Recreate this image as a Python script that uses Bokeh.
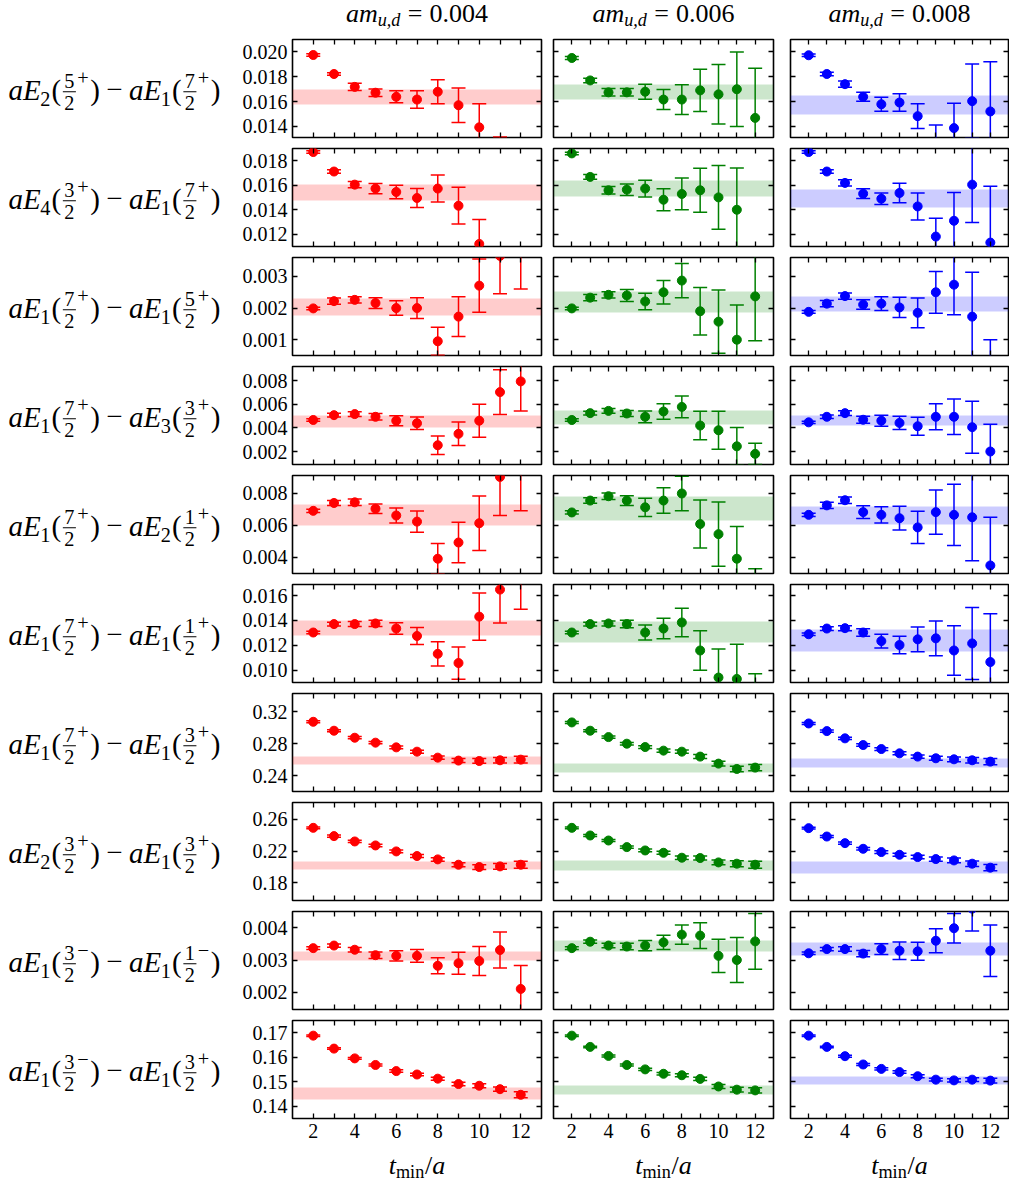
from bokeh.plotting import figure
from bokeh.layouts import column, row
from bokeh.models import Range1d, FixedTicker, LinearAxis, ColumnDataSource, CustomJSTickFormatter
from bokeh.embed import file_html
from bokeh.resources import INLINE
from bokeh.core.properties import value, field

FONT = "Liberation Serif"

# ---------------- data ----------------
t_min = [2, 3, 4, 5, 6, 7, 8, 9, 10, 11, 12]
x_ticks = [2, 4, 6, 8, 10, 12]
x_tick_labels = ["2", "4", "6", "8", "10", "12"]
x_minor_ticks = [3, 5, 7, 9, 11]
x_limits = (1, 13)
masses = ["0.004", "0.006", "0.008"]
colors = ["#ff0000", "#008000", "#0000ff"]

# row 1: aE2(5/2+) - aE1(7/2+)
r01_label = [("2", "5", "+"), ("1", "7", "+")]
r01_ylim = (0.0131, 0.0210)
r01_yticks = [0.014, 0.016, 0.018, 0.020]
r01_yticklabels = ["0.014", "0.016", "0.018", "0.020"]
r01_val_m004 = [0.01975, 0.01822, 0.01718, 0.01671, 0.01638, 0.01616, 0.01679, 0.0157, 0.01392, 0.0118, 0.0100]
r01_err_m004 = [0.0001, 0.0001, 0.0003, 0.0003, 0.00048, 0.0007, 0.00096, 0.0014, 0.0019, 0.00135, 0.002]
r01_val_m006 = [0.01951, 0.0177, 0.01674, 0.01674, 0.01679, 0.01616, 0.01616, 0.0169, 0.01658, 0.01699, 0.01468]
r01_err_m006 = [0.00012, 0.00018, 0.0003, 0.0003, 0.0006, 0.0008, 0.0012, 0.0017, 0.0024, 0.003, 0.004]
r01_val_m008 = [0.01973, 0.01822, 0.0174, 0.01638, 0.01578, 0.01592, 0.01482, 0.0124, 0.01386, 0.01603, 0.0152]
r01_err_m008 = [0.0001, 0.00015, 0.00025, 0.00036, 0.00056, 0.0007, 0.001, 0.0017, 0.002, 0.003, 0.004]
r01_band_mid = [0.0164, 0.0168, 0.01572]
r01_band_half = [0.0006, 0.0006, 0.0008]

# row 2: aE4(3/2+) - aE1(7/2+)
r02_label = [("4", "3", "+"), ("1", "7", "+")]
r02_ylim = (0.0110, 0.0190)
r02_yticks = [0.012, 0.014, 0.016, 0.018]
r02_yticklabels = ["0.012", "0.014", "0.016", "0.018"]
r02_val_m004 = [0.01871, 0.01712, 0.01605, 0.01573, 0.01545, 0.01496, 0.01573, 0.01433, 0.01121, 0.0095, 0.0090]
r02_err_m004 = [0.0001, 0.00015, 0.00025, 0.00042, 0.00055, 0.00077, 0.0011, 0.0015, 0.002, 0.0013, 0.0015]
r02_val_m006 = [0.0186, 0.01668, 0.01559, 0.01564, 0.01573, 0.01482, 0.01529, 0.01559, 0.01501, 0.0140, 0.0095]
r02_err_m006 = [0.0001, 0.0002, 0.0003, 0.00047, 0.00068, 0.0009, 0.0013, 0.0018, 0.0026, 0.0034, 0.001]
r02_val_m008 = [0.01871, 0.01712, 0.01619, 0.01531, 0.0149, 0.01537, 0.01427, 0.01181, 0.0131, 0.01605, 0.01132]
r02_err_m008 = [0.0001, 0.00015, 0.00025, 0.0004, 0.00047, 0.0008, 0.0011, 0.0015, 0.0023, 0.0031, 0.0046]
r02_band_mid = [0.0154, 0.01574, 0.01491]
r02_band_half = [0.00065, 0.00064, 0.00073]

# row 3: aE1(7/2+) - aE1(5/2+)
r03_label = [("1", "7", "+"), ("1", "5", "+")]
r03_ylim = (0.0005, 0.0036)
r03_yticks = [0.001, 0.002, 0.003]
r03_yticklabels = ["0.001", "0.002", "0.003"]
r03_val_m004 = [0.00199, 0.00222, 0.00226, 0.00216, 0.0020, 0.0020, 0.00095, 0.00173, 0.00271, 0.00365, 0.0039]
r03_err_m004 = [0.00004, 0.0001, 0.0001, 0.00017, 0.00023, 0.00033, 0.00044, 0.00063, 0.00084, 0.0012, 0.0013]
r03_val_m006 = [0.00199, 0.00233, 0.00242, 0.0024, 0.00221, 0.0025, 0.00287, 0.0019, 0.00157, 0.0010, 0.00237]
r03_err_m006 = [0.00004, 0.0001, 0.0001, 0.00019, 0.00026, 0.00037, 0.00054, 0.00075, 0.001, 0.0011, 0.0014]
r03_val_m008 = [0.00188, 0.00214, 0.00238, 0.00211, 0.00214, 0.00202, 0.00185, 0.0025, 0.00274, 0.00173, 0.0001]
r03_err_m008 = [0.00004, 0.0001, 0.0001, 0.00015, 0.00022, 0.00032, 0.00047, 0.00066, 0.00095, 0.0014, 0.0009]
r03_band_mid = [0.00203, 0.0022, 0.00213]
r03_band_half = [0.00027, 0.00033, 0.00025]

# row 4: aE1(7/2+) - aE3(3/2+)
r04_label = [("1", "7", "+"), ("3", "3", "+")]
r04_ylim = (0.0009, 0.0092)
r04_yticks = [0.002, 0.004, 0.006, 0.008]
r04_yticklabels = ["0.002", "0.004", "0.006", "0.008"]
r04_val_m004 = [0.00467, 0.00508, 0.00517, 0.00494, 0.00461, 0.00439, 0.00253, 0.0035, 0.00461, 0.00703, 0.00794]
r04_err_m004 = [0.0001, 0.00015, 0.0002, 0.00028, 0.00042, 0.00053, 0.00078, 0.001, 0.0014, 0.0019, 0.0025]
r04_val_m006 = [0.00467, 0.00525, 0.00544, 0.00522, 0.00494, 0.00539, 0.00578, 0.0042, 0.0038, 0.00244, 0.0018]
r04_err_m006 = [0.0001, 0.00015, 0.0002, 0.00025, 0.0005, 0.00065, 0.00092, 0.0012, 0.0016, 0.0016, 0.0009]
r04_val_m008 = [0.00447, 0.00494, 0.00525, 0.00469, 0.00461, 0.00442, 0.00414, 0.00494, 0.00494, 0.00406, 0.0020]
r04_err_m008 = [0.0001, 0.00015, 0.0002, 0.0003, 0.00047, 0.00056, 0.00077, 0.0011, 0.0015, 0.0022, 0.0023]
r04_band_mid = [0.00455, 0.00486, 0.00461]
r04_band_half = [0.00049, 0.00058, 0.00042]

# row 5: aE1(7/2+) - aE2(1/2+)
r05_label = [("1", "7", "+"), ("2", "1", "+")]
r05_ylim = (0.0030, 0.0091)
r05_yticks = [0.004, 0.006, 0.008]
r05_yticklabels = ["0.004", "0.006", "0.008"]
r05_val_m004 = [0.0069, 0.00739, 0.00743, 0.00703, 0.00661, 0.00623, 0.00392, 0.00493, 0.00613, 0.00901, 0.0098]
r05_err_m004 = [0.0001, 0.00015, 0.0002, 0.0003, 0.00047, 0.00066, 0.00095, 0.00126, 0.0017, 0.0024, 0.0029]
r05_val_m006 = [0.0068, 0.00754, 0.00781, 0.00754, 0.00712, 0.00754, 0.00798, 0.00608, 0.00545, 0.00392, 0.0012]
r05_err_m006 = [0.0001, 0.00017, 0.0002, 0.0003, 0.00057, 0.00079, 0.00107, 0.0015, 0.002, 0.002, 0.0021]
r05_val_m008 = [0.00665, 0.00724, 0.00756, 0.00682, 0.00665, 0.00644, 0.00587, 0.00682, 0.00665, 0.0065, 0.0035]
r05_err_m008 = [0.0001, 0.0002, 0.0002, 0.0004, 0.0005, 0.00074, 0.001, 0.00137, 0.0019, 0.0027, 0.003]
r05_band_mid = [0.00662, 0.00703, 0.00663]
r05_band_half = [0.00066, 0.00074, 0.00055]

# row 6: aE1(7/2+) - aE1(1/2+)
r06_label = [("1", "7", "+"), ("1", "1", "+")]
r06_ylim = (0.0090, 0.0169)
r06_yticks = [0.010, 0.012, 0.014, 0.016]
r06_yticklabels = ["0.010", "0.012", "0.014", "0.016"]
r06_val_m004 = [0.01303, 0.01371, 0.01371, 0.01376, 0.01335, 0.01275, 0.01131, 0.01057, 0.01431, 0.01649, 0.0182]
r06_err_m004 = [0.0001, 0.00015, 0.0002, 0.00025, 0.00047, 0.00068, 0.00098, 0.0013, 0.0019, 0.0027, 0.0033]
r06_val_m006 = [0.01303, 0.01371, 0.01376, 0.01371, 0.01303, 0.01335, 0.01384, 0.01158, 0.0094, 0.00929, 0.0068]
r06_err_m006 = [0.0001, 0.00015, 0.0002, 0.0003, 0.0006, 0.00082, 0.00115, 0.0016, 0.0023, 0.0028, 0.0029]
r06_val_m008 = [0.01289, 0.01335, 0.01338, 0.01303, 0.01234, 0.01202, 0.01248, 0.01256, 0.01158, 0.01215, 0.01065]
r06_err_m008 = [0.0001, 0.00015, 0.0002, 0.0003, 0.00055, 0.0007, 0.001, 0.0014, 0.002, 0.0029, 0.0039]
r06_band_mid = [0.0134, 0.01305, 0.01236]
r06_band_half = [0.0006, 0.00085, 0.00089]

# row 7: aE1(7/2+) - aE1(3/2+)
r07_label = [("1", "7", "+"), ("1", "3", "+")]
r07_ylim = (0.220, 0.343)
r07_yticks = [0.24, 0.28, 0.32]
r07_yticklabels = ["0.24", "0.28", "0.32"]
r07_val_m004 = [0.3075, 0.2963, 0.2875, 0.2813, 0.2754, 0.2700, 0.2625, 0.2588, 0.2583, 0.2592, 0.2600]
r07_err_m004 = [0.0012, 0.0013, 0.0014, 0.0015, 0.0017, 0.0019, 0.0021, 0.0025, 0.003, 0.0035, 0.0042]
r07_val_m006 = [0.3067, 0.2963, 0.2883, 0.2800, 0.2758, 0.2713, 0.2700, 0.2638, 0.2550, 0.2483, 0.2500]
r07_err_m006 = [0.0012, 0.0013, 0.0014, 0.0015, 0.0017, 0.0019, 0.0021, 0.0025, 0.003, 0.0035, 0.004]
r07_val_m008 = [0.3054, 0.2958, 0.2867, 0.2783, 0.2733, 0.2679, 0.2638, 0.2617, 0.2604, 0.2592, 0.2575]
r07_err_m008 = [0.0012, 0.0013, 0.0014, 0.0015, 0.0017, 0.0019, 0.0021, 0.0025, 0.003, 0.0035, 0.004]
r07_band_mid = [0.2585, 0.2496, 0.2558]
r07_band_half = [0.0052, 0.0058, 0.0058]

# row 8: aE2(3/2+) - aE1(3/2+)
r08_label = [("2", "3", "+"), ("1", "3", "+")]
r08_ylim = (0.158, 0.281)
r08_yticks = [0.18, 0.22, 0.26]
r08_yticklabels = ["0.18", "0.22", "0.26"]
r08_val_m004 = [0.2492, 0.2388, 0.2321, 0.2271, 0.2196, 0.2138, 0.2096, 0.2029, 0.2000, 0.2008, 0.2029]
r08_err_m004 = [0.0012, 0.0013, 0.0014, 0.0015, 0.0017, 0.0019, 0.0022, 0.0026, 0.003, 0.0035, 0.0045]
r08_val_m006 = [0.2492, 0.2396, 0.2333, 0.2250, 0.2208, 0.2179, 0.2117, 0.2113, 0.2058, 0.2042, 0.2029]
r08_err_m006 = [0.0012, 0.0013, 0.0014, 0.0015, 0.0017, 0.0019, 0.0022, 0.0026, 0.003, 0.0038, 0.0045]
r08_val_m008 = [0.2488, 0.2383, 0.2300, 0.2229, 0.2188, 0.2154, 0.2125, 0.2100, 0.2083, 0.2042, 0.1992]
r08_err_m008 = [0.0012, 0.0013, 0.0014, 0.0015, 0.0017, 0.0019, 0.0022, 0.0026, 0.003, 0.0035, 0.004]
r08_band_mid = [0.2021, 0.2021, 0.1996]
r08_band_half = [0.0054, 0.0063, 0.0079]

# row 9: aE1(3/2-) - aE1(1/2-)
r09_label = [("1", "3", "\u2212"), ("1", "1", "\u2212")]
r09_ylim = (0.00146, 0.00451)
r09_yticks = [0.002, 0.003, 0.004]
r09_yticklabels = ["0.002", "0.003", "0.004"]
r09_val_m004 = [0.00337, 0.00345, 0.00332, 0.00315, 0.00313, 0.00313, 0.00282, 0.0029, 0.00297, 0.00331, 0.0021]
r09_err_m004 = [0.00004, 0.00005, 0.00007, 0.0001, 0.00016, 0.0002, 0.00025, 0.00034, 0.00045, 0.00056, 0.00073]
r09_val_m006 = [0.00337, 0.00357, 0.00345, 0.00342, 0.00345, 0.00355, 0.00379, 0.00376, 0.00313, 0.0030, 0.00358]
r09_err_m006 = [0.00004, 0.00005, 0.00007, 0.0001, 0.00016, 0.00022, 0.0003, 0.0004, 0.00052, 0.0007, 0.00087]
r09_val_m008 = [0.00321, 0.00334, 0.00334, 0.0032, 0.00334, 0.00329, 0.00327, 0.0036, 0.00399, 0.0046, 0.00329]
r09_err_m008 = [0.00004, 0.00005, 0.00007, 0.0001, 0.00017, 0.00027, 0.00028, 0.00037, 0.00046, 0.0007, 0.0008]
r09_band_mid = [0.00313, 0.00343, 0.00335]
r09_band_half = [0.00013, 0.00017, 0.0002]

# row 10: aE1(3/2-) - aE1(3/2+)
r10_label = [("1", "3", "\u2212"), ("1", "3", "+")]
r10_ylim = (0.135, 0.1751)
r10_yticks = [0.14, 0.15, 0.16, 0.17]
r10_yticklabels = ["0.14", "0.15", "0.16", "0.17"]
r10_val_m004 = [0.1689, 0.1636, 0.1596, 0.1569, 0.1544, 0.1530, 0.1513, 0.1491, 0.1484, 0.1470, 0.1447]
r10_err_m004 = [0.0003, 0.0003, 0.0004, 0.0004, 0.0005, 0.0005, 0.0006, 0.0007, 0.0008, 0.0009, 0.0012]
r10_val_m006 = [0.1689, 0.1643, 0.1606, 0.1569, 0.1551, 0.1533, 0.1527, 0.1512, 0.1481, 0.1468, 0.1465]
r10_err_m006 = [0.0003, 0.0003, 0.0004, 0.0004, 0.0005, 0.0005, 0.0006, 0.0007, 0.0008, 0.001, 0.0011]
r10_val_m008 = [0.1689, 0.1643, 0.1605, 0.1571, 0.1553, 0.1540, 0.1523, 0.1509, 0.1506, 0.1509, 0.1505]
r10_err_m008 = [0.0003, 0.0003, 0.0004, 0.0004, 0.0005, 0.0005, 0.0006, 0.0006, 0.0007, 0.0008, 0.001]
r10_band_mid = [0.1452, 0.1466, 0.1505]
r10_band_half = [0.0026, 0.0019, 0.0017]

ROWS = []
for lab, ylim, yt, ytl, vals, errs, bm, bh in [
    (r01_label, r01_ylim, r01_yticks, r01_yticklabels, [r01_val_m004, r01_val_m006, r01_val_m008], [r01_err_m004, r01_err_m006, r01_err_m008], r01_band_mid, r01_band_half),
    (r02_label, r02_ylim, r02_yticks, r02_yticklabels, [r02_val_m004, r02_val_m006, r02_val_m008], [r02_err_m004, r02_err_m006, r02_err_m008], r02_band_mid, r02_band_half),
    (r03_label, r03_ylim, r03_yticks, r03_yticklabels, [r03_val_m004, r03_val_m006, r03_val_m008], [r03_err_m004, r03_err_m006, r03_err_m008], r03_band_mid, r03_band_half),
    (r04_label, r04_ylim, r04_yticks, r04_yticklabels, [r04_val_m004, r04_val_m006, r04_val_m008], [r04_err_m004, r04_err_m006, r04_err_m008], r04_band_mid, r04_band_half),
    (r05_label, r05_ylim, r05_yticks, r05_yticklabels, [r05_val_m004, r05_val_m006, r05_val_m008], [r05_err_m004, r05_err_m006, r05_err_m008], r05_band_mid, r05_band_half),
    (r06_label, r06_ylim, r06_yticks, r06_yticklabels, [r06_val_m004, r06_val_m006, r06_val_m008], [r06_err_m004, r06_err_m006, r06_err_m008], r06_band_mid, r06_band_half),
    (r07_label, r07_ylim, r07_yticks, r07_yticklabels, [r07_val_m004, r07_val_m006, r07_val_m008], [r07_err_m004, r07_err_m006, r07_err_m008], r07_band_mid, r07_band_half),
    (r08_label, r08_ylim, r08_yticks, r08_yticklabels, [r08_val_m004, r08_val_m006, r08_val_m008], [r08_err_m004, r08_err_m006, r08_err_m008], r08_band_mid, r08_band_half),
    (r09_label, r09_ylim, r09_yticks, r09_yticklabels, [r09_val_m004, r09_val_m006, r09_val_m008], [r09_err_m004, r09_err_m006, r09_err_m008], r09_band_mid, r09_band_half),
    (r10_label, r10_ylim, r10_yticks, r10_yticklabels, [r10_val_m004, r10_val_m006, r10_val_m008], [r10_err_m004, r10_err_m006, r10_err_m008], r10_band_mid, r10_band_half),
]:
    ROWS.append(dict(label=lab, ylim=ylim, yticks=yt, yticklabels=ytl, vals=vals, errs=errs, bmid=bm, bhalf=bh))

# ---------------- layout constants (px) ----------------
PAGE0 = 0
LABEL_W = 236
FRAME_W = [249, 220, 218]
FRAME_H = 98
COL_LEFT = [56, 6, 8]
COL_RIGHT = [6, 9, 1]
ROW_TOP = 4
ROW_BOTTOM = 7
LAST_BOTTOM = 32
HEADER_H = 35
TICK_SIZE = 20
LABEL_SIZE = 29
TEXT_SIZE = 26
LINE_W = 1.5
BASE_SHIFT = 0.33   # empirical: text glyphs draw this many em below the given baseline

# ---------------- simple typesetting ----------------
W_UP = {c: 0.5 for c in "0123456789"}
W_UP.update({".": 0.25, ",": 0.25, "(": 0.333, ")": 0.333, "+": 0.564, "\u2212": 0.564,
             "=": 0.564, "/": 0.278, "m": 0.778, "i": 0.278, "n": 0.5})
W_IT = {"a": 0.5, "E": 0.611, "m": 0.722, "u": 0.5, "d": 0.5, "t": 0.278, ",": 0.25}


def tw(s, size, italic):
    tab = W_IT if italic else W_UP
    return sum(tab.get(ch, 0.5) for ch in s) * size


class Typeset:
    def __init__(self):
        self.items = []
        self.bars = []
        self.x = 0.0

    def skip(self, d):
        self.x += d

    def put(self, txt, size, italic, dy=0.0):
        self.items.append((self.x, dy, txt, size, italic))
        self.x += tw(txt, size, italic)

    def frac(self, num, den, s, S):
        bw = max(tw(num, s, False), tw(den, s, False)) + 0.14 * S
        self.items.append((self.x + (bw - tw(num, s, False)) / 2, -0.40 * S, num, s, False))
        self.items.append((self.x + (bw - tw(den, s, False)) / 2, 0.36 * S, den, s, False))
        self.bars.append((self.x + 0.02 * S, self.x + bw - 0.02 * S, -0.25 * S))
        self.x += bw


def label_typeset(terms, S):
    T = Typeset()
    s = 0.7 * S
    for k, (idx, num, sign) in enumerate(terms):
        if k:
            T.skip(0.22 * S)
            T.put("\u2212", S, False)
            T.skip(0.22 * S)
        T.put("aE", S, True)
        T.skip(-0.02 * S)
        T.put(idx, s, False, dy=0.22 * S)
        T.skip(0.04 * S)
        T.put("(", S, False)
        T.skip(0.04 * S)
        T.frac(num, "2", s, S)
        T.skip(0.03 * S)
        T.put(sign, s, False, dy=-0.50 * S)
        T.skip(0.05 * S)
        T.put(")", S, False)
    return T


def header_typeset(mass, S):
    T = Typeset()
    s = 0.7 * S
    T.put("am", S, True)
    T.put("u,d", s, True, dy=0.15 * S)
    T.skip(0.28 * S)
    T.put("=", S, False)
    T.skip(0.28 * S)
    T.put(mass, S, False)
    return T


def xtitle_typeset(S):
    T = Typeset()
    s = 0.7 * S
    T.put("t", S, True)
    T.put("min", s, False, dy=0.15 * S)
    T.skip(0.03 * S)
    T.put("/", S, False)
    T.put("a", S, True)
    return T


def text_canvas(x0, y0, w, h):
    p = figure(width=w, height=h, x_range=Range1d(x0, x0 + w), y_range=Range1d(y0 + h, y0),
               x_axis_type=None, y_axis_type=None, toolbar_location=None,
               output_backend="svg", min_border=0)
    p.outline_line_color = None
    return p


def draw_typeset(p, T, x0, yb):
    src = ColumnDataSource(dict(
        x=[x0 + it[0] for it in T.items],
        y=[yb + it[1] - BASE_SHIFT * it[3] for it in T.items],
        text=[it[2] for it in T.items],
        size=["%.1fpx" % it[3] for it in T.items],
        style=["italic" if it[4] else "normal" for it in T.items],
    ))
    p.text(x="x", y="y", text="text", source=src, text_font=value(FONT),
           text_font_size=field("size"), text_font_style=field("style"),
           text_align="left", text_baseline="alphabetic", text_color="black")
    if T.bars:
        p.segment(x0=[x0 + b[0] for b in T.bars], x1=[x0 + b[1] for b in T.bars],
                  y0=[yb + b[2] for b in T.bars], y1=[yb + b[2] for b in T.bars],
                  line_color="black", line_width=1.1)


# column geometry on the page
col_widths = [COL_LEFT[c] + FRAME_W[c] + COL_RIGHT[c] for c in range(3)]
col_frame_left = []
xx = PAGE0 + LABEL_W
for c in range(3):
    col_frame_left.append(xx + COL_LEFT[c])
    xx += col_widths[c]
col_center = [col_frame_left[c] + FRAME_W[c] / 2 for c in range(3)]
TOTAL_W = LABEL_W + sum(col_widths)

# ---------------- header ----------------
header = text_canvas(PAGE0, PAGE0, TOTAL_W, HEADER_H)
for c, m in enumerate(masses):
    T = header_typeset(m, TEXT_SIZE)
    draw_typeset(header, T, col_center[c] - T.x / 2, PAGE0 + 22)

# ---------------- panels ----------------
def make_axis(ticker, labels_on, overrides=None, standoff=7):
    ax = LinearAxis(ticker=ticker)
    ax.axis_line_color = None
    ax.major_tick_in = 5
    ax.major_tick_out = 0
    ax.minor_tick_in = 5
    ax.minor_tick_out = 0
    ax.major_tick_line_width = 1.3
    ax.minor_tick_line_width = 1.3
    ax.major_tick_line_color = "black"
    ax.minor_tick_line_color = "black"
    if labels_on:
        ax.major_label_overrides = overrides
        ax.major_label_text_font = FONT
        ax.major_label_text_font_size = "%dpx" % TICK_SIZE
        ax.major_label_text_color = "black"
        ax.major_label_standoff = standoff
    else:
        ax.formatter = CustomJSTickFormatter(code="return ''")
        ax.major_label_text_font_size = "0px"
        ax.major_label_standoff = 0
    return ax


panel_rows = []
n_rows = len(ROWS)
for r, R in enumerate(ROWS):
    last = (r == n_rows - 1)
    figs = []
    for c in range(3):
        bottom = LAST_BOTTOM if last else ROW_BOTTOM
        p = figure(width=col_widths[c], height=ROW_TOP + FRAME_H + bottom,
                   x_range=Range1d(*x_limits), y_range=Range1d(*R["ylim"]),
                   x_axis_type=None, y_axis_type=None, toolbar_location=None,
                   output_backend="svg",
                   min_border_left=COL_LEFT[c], min_border_right=COL_RIGHT[c],
                   min_border_top=ROW_TOP, min_border_bottom=bottom)
        p.outline_line_color = "black"
        p.outline_line_width = 1.6
        p.background_fill_color = "white"
        p.border_fill_color = "white"

        xt = FixedTicker(ticks=x_ticks, minor_ticks=x_minor_ticks)
        yt = FixedTicker(ticks=R["yticks"], minor_ticks=[])
        xover = {t: l for t, l in zip(x_ticks, x_tick_labels)}
        yover = {t: l for t, l in zip(R["yticks"], R["yticklabels"])}
        p.add_layout(make_axis(xt, last, xover, 5), "below")
        p.add_layout(make_axis(FixedTicker(ticks=x_ticks, minor_ticks=x_minor_ticks), False), "above")
        p.add_layout(make_axis(yt, c == 0, yover, 5), "left")
        p.add_layout(make_axis(FixedTicker(ticks=R["yticks"], minor_ticks=[]), False), "right")

        col = colors[c]
        vals = R["vals"][c]
        errs = R["errs"][c]
        mid = R["bmid"][c]
        half = R["bhalf"][c]
        p.hstrip(y0=[mid - half], y1=[mid + half], fill_color=col, fill_alpha=0.2, line_color=None)
        lo = [v - e for v, e in zip(vals, errs)]
        hi = [v + e for v, e in zip(vals, errs)]
        p.segment(x0=t_min, x1=t_min, y0=lo, y1=hi, line_color=col, line_width=LINE_W)
        p.scatter(x=t_min + t_min, y=lo + hi, marker="dash", size=14, line_color=col, line_width=LINE_W)
        p.scatter(x=t_min, y=vals, marker="circle", size=9, fill_color=col, line_color=col)
        figs.append(p)
    panel_rows.append(row(*figs, spacing=0))

mid_h = (n_rows - 1) * (ROW_TOP + FRAME_H + ROW_BOTTOM) + ROW_TOP + FRAME_H + LAST_BOTTOM
mid_y0 = PAGE0 + HEADER_H

# ---------------- row labels ----------------
labels = text_canvas(PAGE0, mid_y0, LABEL_W, mid_h)
for r, R in enumerate(ROWS):
    T = label_typeset(R["label"], LABEL_SIZE)
    frame_center = mid_y0 + r * (ROW_TOP + FRAME_H + ROW_BOTTOM) + ROW_TOP + FRAME_H / 2
    draw_typeset(labels, T, PAGE0 + 8, frame_center + 0.33 * LABEL_SIZE + 1)

# ---------------- footer ----------------
foot_y0 = mid_y0 + mid_h
FOOTER_H = 1184 - foot_y0
footer = text_canvas(PAGE0, foot_y0, TOTAL_W, FOOTER_H)
for c in range(3):
    T = xtitle_typeset(TEXT_SIZE)
    draw_typeset(footer, T, col_center[c] - T.x / 2, foot_y0 + 24)

layout = column(header, row(labels, column(*panel_rows, spacing=0), spacing=0), footer, spacing=0)

open("out.html", "w").write(file_html(layout, INLINE))
